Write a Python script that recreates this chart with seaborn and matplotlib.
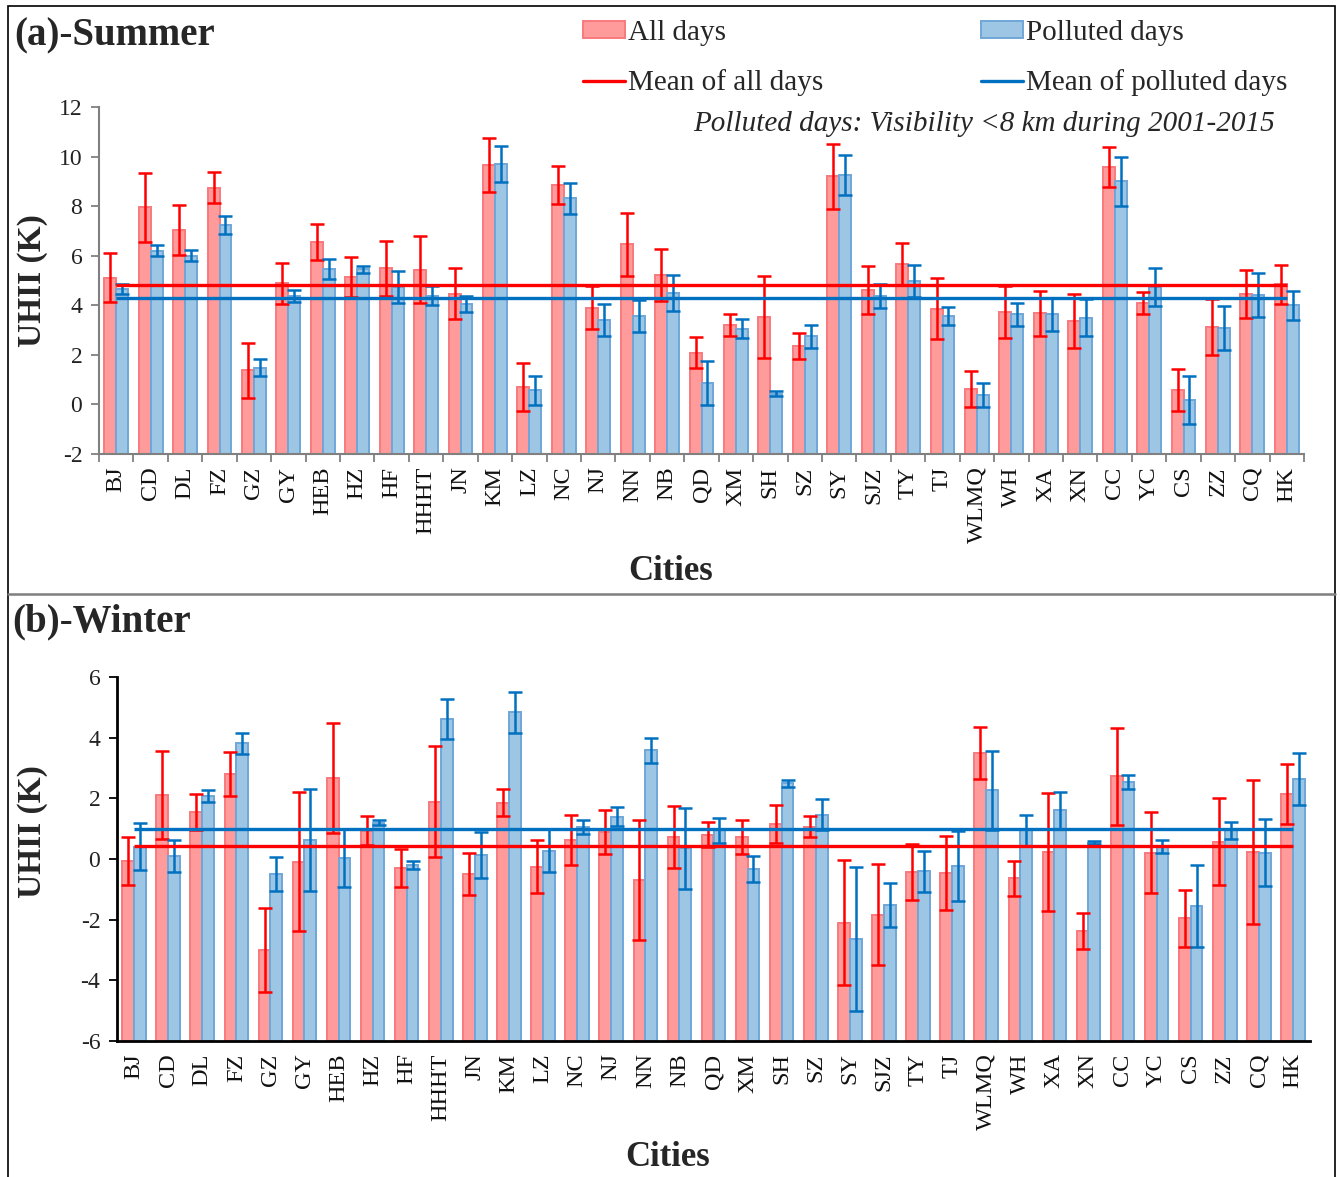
import numpy as np
import pandas as pd
import matplotlib
matplotlib.use("Agg")
import matplotlib.pyplot as plt
from matplotlib.patches import Patch, Rectangle
from matplotlib.lines import Line2D
import seaborn as sns

# ---------------------------------------------------------------- data
cities = ["BJ", "CD", "DL", "FZ", "GZ", "GY", "HEB", "HZ", "HF", "HHHT", "JN", "KM",
          "LZ", "NC", "NJ", "NN", "NB", "QD", "XM", "SH", "SZ", "SY", "SJZ", "TY",
          "TJ", "WLMQ", "WH", "XA", "XN", "CC", "YC", "CS", "ZZ", "CQ", "HK"]
groups = ["All days", "Polluted days"]

summer_all = [5.12, 7.95, 7.03, 8.75, 1.37, 4.88, 6.54, 5.15, 5.49, 5.44, 4.46, 9.65,
              0.70, 8.85, 3.91, 6.46, 5.22, 2.09, 3.21, 3.53, 2.35, 9.20, 4.61, 5.67,
              3.87, 0.62, 3.71, 3.67, 3.37, 9.58, 4.10, 0.59, 3.13, 4.47, 4.84]
summer_all_err = [0.99, 1.38, 1.02, 0.61, 1.11, 0.81, 0.73, 0.80, 1.10, 1.36, 1.03, 1.08,
                  0.96, 0.75, 0.88, 1.27, 1.04, 0.64, 0.45, 1.67, 0.52, 1.31, 0.98, 0.86,
                  1.25, 0.71, 1.05, 0.90, 1.08, 0.82, 0.45, 0.85, 1.13, 0.97, 0.78]
summer_pol = [4.64, 6.20, 6.00, 7.25, 1.48, 4.38, 5.46, 5.46, 4.74, 4.38, 4.04, 9.70,
              0.57, 8.32, 3.40, 3.57, 4.50, 0.88, 3.05, 0.43, 2.75, 9.25, 4.37, 4.99,
              3.57, 0.39, 3.63, 3.63, 3.50, 9.00, 4.73, 0.19, 3.09, 4.42, 4.00]
summer_pol_err = [0.20, 0.23, 0.22, 0.37, 0.35, 0.25, 0.40, 0.14, 0.63, 0.38, 0.33, 0.73,
                  0.58, 0.63, 0.65, 0.64, 0.73, 0.89, 0.39, 0.10, 0.46, 0.82, 0.48, 0.64,
                  0.35, 0.49, 0.47, 0.66, 0.75, 1.00, 0.76, 0.97, 0.90, 0.90, 0.58]
summer_mean_all = 4.81
summer_mean_pol = 4.31

winter_all = [-0.06, 2.11, 1.54, 2.81, -3.00, -0.09, 2.67, 0.93, -0.30, 1.88, -0.50, 1.86,
              -0.25, 0.63, 0.90, -0.69, 0.72, 0.80, 0.72, 1.16, 1.07, -2.10, -1.83, -0.43,
              -0.46, 3.50, -0.64, 0.24, -2.38, 2.72, 0.21, -1.96, 0.57, 0.24, 2.15]
winter_all_err = [0.79, 1.46, 0.60, 0.72, 1.39, 2.30, 1.80, 0.48, 0.63, 1.83, 0.69, 0.45,
                  0.88, 0.83, 0.73, 1.98, 1.02, 0.42, 0.56, 0.63, 0.36, 2.07, 1.66, 0.92,
                  1.22, 0.85, 0.59, 1.95, 0.59, 1.60, 1.34, 0.94, 1.43, 2.37, 0.98]
winter_pol = [0.41, 0.11, 2.08, 3.81, -0.50, 0.63, 0.04, 1.20, -0.20, 4.63, 0.13, 4.83,
              0.28, 1.07, 1.40, 3.58, 0.35, 0.94, -0.34, 2.49, 1.46, -2.64, -1.52, -0.40,
              -0.23, 2.26, 0.94, 1.60, 0.54, 2.54, 0.41, -1.55, 0.94, 0.21, 2.63]
winter_pol_err = [0.77, 0.53, 0.21, 0.36, 0.56, 1.69, 0.95, 0.07, 0.12, 0.66, 0.77, 0.66,
                  0.70, 0.23, 0.32, 0.40, 1.34, 0.41, 0.43, 0.10, 0.52, 2.36, 0.72, 0.68,
                  1.14, 1.29, 0.50, 0.62, 0.06, 0.24, 0.22, 1.36, 0.29, 1.10, 0.85]
winter_mean_all = 0.44
winter_mean_pol = 0.98

# ---------------------------------------------------------------- style
RED_FILL, RED_EDGE, RED_LINE = "#FF9B9B", "#F77A7E", "#FF0000"
BLUE_FILL, BLUE_EDGE, BLUE_LINE = "#9DC5E4", "#6FA7D8", "#0070C0"

sns.set_style("ticks")
plt.rcParams["font.family"] = ["Liberation Serif", "DejaVu Serif"]

W, H = 1340, 1177
fig = plt.figure(figsize=(W / 100, H / 100), dpi=100)


def fx(px):
    return px / W


def fy(py):
    return 1 - py / H


def draw_panel(ax, all_vals, all_err, pol_vals, pol_err, mean_all, mean_pol,
               ylim, spine_color, spine_lw, ticks_between):
    n = len(cities)
    df = pd.DataFrame({
        "City": cities * 2,
        "Group": [groups[0]] * n + [groups[1]] * n,
        "UHII": list(all_vals) + list(pol_vals),
    })
    sns.barplot(data=df, x="City", y="UHII", hue="Group", order=cities,
                hue_order=groups, palette=[RED_FILL, BLUE_FILL], saturation=1,
                width=0.69, gap=0, errorbar=None, legend=False, ax=ax,
                linewidth=1.4, zorder=2)
    # bars rise from the bottom of the value axis, where the category axis crosses
    base = ylim[0]
    for cont, edge in zip(ax.containers, [RED_EDGE, BLUE_EDGE]):
        for p, v in zip(cont, cont.datavalues):
            p.set_edgecolor(edge)
            p.set_y(base)
            p.set_height(v - base)

    # error bars centred on each bar
    for cont, errs, col in zip(ax.containers, [all_err, pol_err], [RED_LINE, BLUE_LINE]):
        xs = [p.get_x() + p.get_width() / 2 for p in cont]
        ax.errorbar(xs, cont.datavalues, yerr=errs, fmt="none", ecolor=col,
                    elinewidth=1.8, capsize=5, capthick=1.8, zorder=3)

    # mean lines spanning first to last city
    ax.hlines(mean_all, 0, n - 1, color=RED_LINE, lw=2.4, zorder=4)
    ax.hlines(mean_pol, 0, n - 1, color=BLUE_LINE, lw=2.4, zorder=4)

    ax.set_xlim(-0.5, n - 0.5)
    ax.set_ylim(*ylim)
    ticks = np.arange(ylim[0], ylim[1] + 1, 2)
    ax.set_yticks(ticks)
    ax.set_yticklabels([f"{v:d}" for v in ticks])
    sns.despine(ax=ax)
    for s in ("left", "bottom"):
        ax.spines[s].set_color(spine_color)
        ax.spines[s].set_linewidth(spine_lw)
    ax.spines["bottom"].set_zorder(5)

    ax.set_xticks(range(n))
    ax.set_xticklabels(cities, rotation=90, fontsize=17.5, color="#111111")
    ax.tick_params(axis="x", which="major", length=0, pad=9)
    if ticks_between:
        ax.set_xticks(np.arange(-0.5, n, 1.0), minor=True)
        ax.tick_params(axis="x", which="minor", length=6, width=1.3,
                       color=spine_color, direction="out")
    ax.tick_params(axis="y", length=6, width=1.3, color=spine_color,
                   labelsize=17, labelcolor="#222222", pad=6)
    ax.set_xlabel("Cities", fontsize=25, fontweight="bold", va="center")
    ax.set_ylabel("UHII (K)", fontsize=24, fontweight="bold", va="center")


# summer panel
ax1 = fig.add_axes([fx(99), fy(454), fx(1304) - fx(99), fy(107) - fy(454)])
draw_panel(ax1, summer_all, summer_all_err, summer_pol, summer_pol_err,
           summer_mean_all, summer_mean_pol, (-2, 12), "#808080", 1.5, True)
ax1.xaxis.set_label_coords((671 - 99) / (1304 - 99), (454 - 572) / (454 - 107))
ax1.yaxis.set_label_coords((33 - 99) / (1304 - 99), 0.5)

# winter panel
ax2 = fig.add_axes([fx(117), fy(1041), fx(1310) - fx(117), fy(677) - fy(1041)])
draw_panel(ax2, winter_all, winter_all_err, winter_pol, winter_pol_err,
           winter_mean_all, winter_mean_pol, (-6, 6), "#000000", 2.0, False)
ax2.xaxis.set_label_coords((668 - 117) / (1310 - 117), (1041 - 1158) / (1041 - 677))
ax2.yaxis.set_label_coords((33 - 117) / (1310 - 117), (1041 - 832) / (1041 - 677))

# panel titles
fig.text(fx(14), fy(36), "(a)-Summer", fontsize=28, fontweight="bold", va="center", ha="left")
fig.text(fx(12), fy(622), "(b)-Winter", fontsize=28, fontweight="bold", va="center", ha="left")

# legend
handles = [Patch(facecolor=RED_FILL, edgecolor=RED_EDGE, lw=1.4),
           Line2D([], [], color=RED_LINE, lw=2.4),
           Patch(facecolor=BLUE_FILL, edgecolor=BLUE_EDGE, lw=1.4),
           Line2D([], [], color=BLUE_LINE, lw=2.4)]
labels = ["All days", "Mean of all days", "Polluted days", "Mean of polluted days"]
fig.legend(handles, labels, ncol=2, loc="upper left",
           bbox_to_anchor=(fx(583), fy(20)), frameon=False, fontsize=21,
           handlelength=1.45, handleheight=0.52, handletextpad=0.1,
           labelspacing=0.8, columnspacing=5.4, borderpad=0, borderaxespad=0)

fig.text(fx(693), fy(124), "Polluted days: Visibility <8 km during 2001-2015",
         fontsize=21, style="italic", va="center", ha="left")

# outer frame and divider between the panels
fig.add_artist(Rectangle((fx(8), -0.01), fx(1335) - fx(8), fy(6) + 0.01,
                         transform=fig.transFigure, fill=False, edgecolor="black", lw=1.2))
fig.add_artist(Line2D([fx(8), fx(1335)], [fy(594), fy(594)], transform=fig.transFigure,
                      color="#7F7F7F", lw=1.8))

fig.savefig("out.png", dpi=100)
